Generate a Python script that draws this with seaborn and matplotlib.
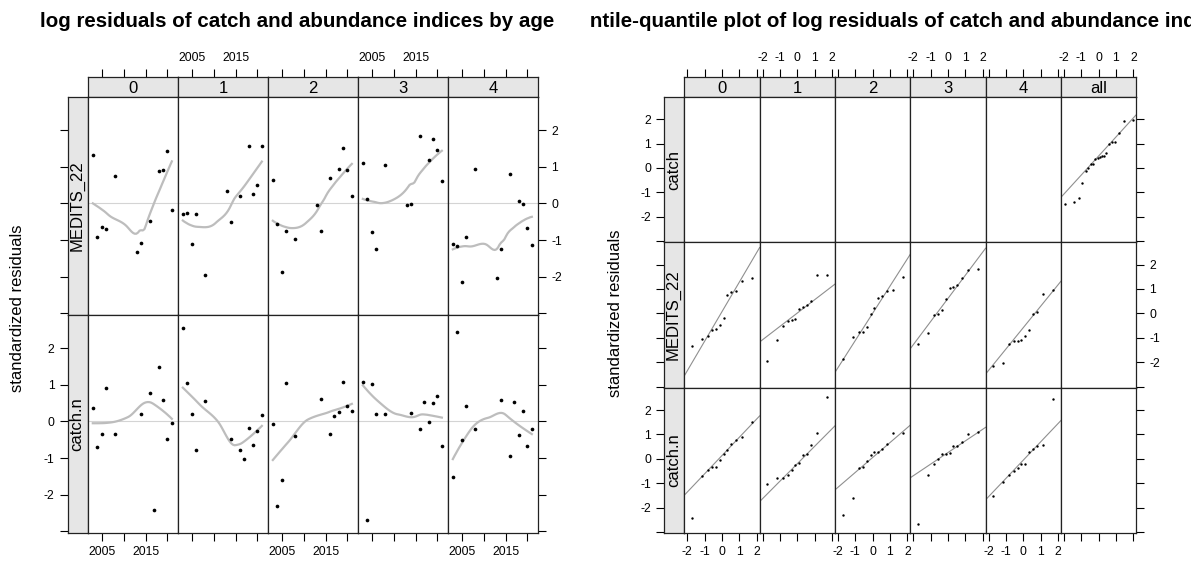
import numpy as np
import pandas as pd
import matplotlib
matplotlib.use("Agg")
import matplotlib.pyplot as plt
import seaborn as sns
from statistics import NormalDist

# standardized log residuals
ages = ["0", "1", "2", "3", "4"]
medits_years = [2003, 2004, 2005, 2006, 2008, 2013, 2014, 2016, 2018, 2019, 2020, 2021]
catchn_years = [2003, 2004, 2005, 2006, 2008, 2014, 2016, 2017, 2018, 2019, 2020, 2021]

medits_0 = [1.32, -0.92, -0.65, -0.69, 0.75, -1.32, -1.07, -0.47, 0.88, 0.91, 1.44, -0.18]
medits_1 = [-0.28, -0.25, -1.11, -0.30, -1.95, 0.34, -0.52, 0.19, 1.56, 0.25, 0.51, 1.56]
medits_2 = [0.65, -0.57, -1.87, -0.75, -0.98, -0.03, -0.75, 0.70, 0.94, 1.51, 0.92, 0.21]
medits_3 = [1.10, 0.13, -0.79, -1.25, 1.05, -0.05, -0.02, 1.84, 1.18, 1.77, 1.47, 0.60]
medits_4 = [-1.11, -1.15, -2.16, -0.92, 0.94, -2.05, -1.25, 0.81, 0.06, -0.01, -0.67, -1.14]

catchn_0 = [0.38, -0.70, -0.34, 0.91, -0.33, 0.20, 0.78, -2.43, 1.49, 0.59, -0.47, -0.05]
catchn_1 = [2.55, 1.05, 0.19, -0.79, 0.55, -0.47, -0.79, -1.03, -0.19, -0.65, -0.27, 0.17]
catchn_2 = [-0.07, -2.30, -1.59, 1.06, -0.39, 0.60, -0.35, 0.15, 0.27, 1.07, 0.42, 0.28]
catchn_3 = [1.08, -2.69, 1.02, 0.20, 0.20, 0.23, -0.20, 0.54, -0.02, 0.51, 0.69, -0.66]
catchn_4 = [-1.52, 2.44, -0.52, 0.42, -0.20, 0.58, -0.95, 0.54, -0.38, 0.29, -0.68, -0.20]

# total catch (only in the "all" qq panel)
catch_all = [-1.47, -1.40, -1.25, -0.63, -0.14, 0.00, 0.15, 0.16, 0.36, 0.42,
             0.47, 0.48, 0.51, 0.63, 1.00, 1.07, 1.07, 1.44, 1.92, 1.96]

rows = []
for age, vals in zip(ages, [medits_0, medits_1, medits_2, medits_3, medits_4]):
    rows += [("MEDITS_22", age, yr, v) for yr, v in zip(medits_years, vals)]
for age, vals in zip(ages, [catchn_0, catchn_1, catchn_2, catchn_3, catchn_4]):
    rows += [("catch.n", age, yr, v) for yr, v in zip(catchn_years, vals)]
df = pd.DataFrame(rows, columns=["index", "age", "year", "resid"])

W, H = 1191, 561
STRIP = "#e6e6e6"
FRAME = "#222222"
TICK_FS = 8.7
TITLE_FS = 14.8

plt.rcParams["font.family"] = ["Liberation Sans", "DejaVu Sans"]
fig = plt.figure(figsize=(W / 100, H / 100), dpi=100)


def box(x0, y0, x1, y1):
    return [x0 / W, 1 - y1 / H, (x1 - x0) / W, (y1 - y0) / H]


def loess_smooth(x, y, span=2 / 3, iterations=4, n_eval=50, cell=0.2):
    """degree-1 loess, symmetric family, kd-tree vertices + cubic interpolation
    (roughly what R's loess.smooth does inside panel.loess)"""
    x = np.asarray(x, float)
    y = np.asarray(y, float)
    n = len(x)
    q = int(np.floor(n * span))
    fc = max(int(np.floor(n * span * cell)), 1)

    def cuts(xx):
        if len(xx) <= fc:
            return []
        m = (len(xx) - 1) // 2
        v = (xx[m] + xx[m + 1]) / 2
        return cuts(xx[:m + 1]) + [v] + cuts(xx[m + 1:])

    xsort = np.sort(x)
    mu = 0.005 * (xsort[-1] - xsort[0])
    verts = np.array([xsort[0] - mu] + cuts(xsort) + [xsort[-1] + mu])

    def fit_at(x0, rw):
        d = np.abs(x - x0)
        h = np.sort(d)[q - 1] * 1.0001
        w = (1 - np.clip(d / h, 0, 1) ** 3) ** 3 * rw
        xm = (w * x).sum() / w.sum()
        ym = (w * y).sum() / w.sum()
        sxx = (w * (x - xm) ** 2).sum()
        b = (w * (x - xm) * (y - ym)).sum() / sxx if sxx > 0 else 0.0
        return ym + b * (x0 - xm), b

    def interp(t, vals, slopes):
        i = np.clip(np.searchsorted(verts, t) - 1, 0, len(verts) - 2)
        h = verts[i + 1] - verts[i]
        s = (t - verts[i]) / h
        return ((2 * s ** 3 - 3 * s ** 2 + 1) * vals[i] + (s ** 3 - 2 * s ** 2 + s) * h * slopes[i]
                + (-2 * s ** 3 + 3 * s ** 2) * vals[i + 1] + (s ** 3 - s ** 2) * h * slopes[i + 1])

    rw = np.ones(n)
    for it in range(iterations):
        fits = np.array([fit_at(v, rw) for v in verts])
        if it < iterations - 1:
            res = y - interp(x, fits[:, 0], fits[:, 1])
            s = np.median(np.abs(res))
            u = np.clip(res / (6 * s), -1, 1)
            rw = (1 - u ** 2) ** 2
    xe = np.linspace(x.min(), x.max(), n_eval)
    return xe, interp(xe, fits[:, 0], fits[:, 1])


def build_grid(cols, rows_px, strip_x, col_names, row_names, xlim, xticks, xlabels):
    ylim = (-3.05, 2.91)
    yticks = [-3, -2, -1, 0, 1, 2]
    ylabels = ["", "-2", "-1", "0", "1", "2"]
    n_r, n_c = len(rows_px) - 1, len(cols) - 1
    tick_kw = dict(direction="out", length=5.5, width=0.8, labelsize=TICK_FS, pad=4)
    grid = np.empty((n_r, n_c), dtype=object)

    for c in range(n_c):
        tax = fig.add_axes(box(cols[c], 77.3, cols[c + 1], 97))
        tax.set_facecolor(STRIP)
        tax.set_xlim(xlim)
        tax.set_xticks(xticks, xlabels)
        tax.set_yticks([])
        tax.tick_params(axis="x", bottom=False, labelbottom=False, top=True,
                        labeltop=(c % 2 == 1), **tick_kw)
        tax.text(0.5, 0.45, col_names[c], transform=tax.transAxes,
                 ha="center", va="center", fontsize=12)

    for r in range(n_r):
        from_bottom = n_r - 1 - r
        sax = fig.add_axes(box(strip_x, rows_px[r], cols[0], rows_px[r + 1]))
        sax.set_facecolor(STRIP)
        sax.set_xticks([])
        sax.set_ylim(ylim)
        sax.set_yticks(yticks, ylabels)
        sax.tick_params(axis="y", labelleft=(from_bottom % 2 == 0), **tick_kw)
        sax.text(0.45, 0.5, row_names[r], transform=sax.transAxes, rotation=90,
                 ha="center", va="center", fontsize=12)
        for c in range(n_c):
            ax = fig.add_axes(box(cols[c], rows_px[r], cols[c + 1], rows_px[r + 1]))
            ax.set_xlim(xlim)
            ax.set_ylim(ylim)
            ax.set_xticks(xticks, xlabels)
            ax.set_yticks(yticks, ylabels)
            bottom = r == n_r - 1
            right = c == n_c - 1
            ax.tick_params(axis="x", top=False, labeltop=False, bottom=bottom,
                           labelbottom=bottom and c % 2 == 0, **tick_kw)
            ax.tick_params(axis="y", left=False, labelleft=False, right=right,
                           labelright=right and from_bottom % 2 == 1, **tick_kw)
            grid[r, c] = ax

    for ax in fig.axes:
        for sp in ax.spines.values():
            sp.set_color(FRAME)
            sp.set_linewidth(0.9)
    return grid


def qq_panel(ax, vals):
    y = np.sort(np.asarray(vals, float))
    n = len(y)
    a = 3 / 8 if n <= 10 else 0.5
    p = (np.arange(1, n + 1) - a) / (n + 1 - 2 * a)
    nd = NormalDist()
    x = np.array([nd.inv_cdf(pi) for pi in p])
    q1, q3 = np.quantile(y, [0.25, 0.75])
    slope = (q3 - q1) / (nd.inv_cdf(0.75) - nd.inv_cdf(0.25))
    icpt = q1 - slope * nd.inv_cdf(0.25)
    ax.axline((0, icpt), slope=slope, color="#8f8f8f", lw=0.8, zorder=1)
    sns.scatterplot(x=x, y=y, ax=ax, color="black", s=3, linewidth=0, zorder=3)


# ---- left: residuals by year ----
left = build_grid([88, 178, 268, 358, 448, 538], [97, 315, 533], 67.7,
                  ages, ["MEDITS_22", "catch.n"], (2001.9, 2022.4),
                  [2005, 2010, 2015, 2020], ["2005", "", "2015", ""])
for r, idx in enumerate(["MEDITS_22", "catch.n"]):
    for c, age in enumerate(ages):
        ax = left[r, c]
        sub = df[(df["index"] == idx) & (df["age"] == age)]
        ax.axhline(0, color="#d4d4d4", lw=0.8, zorder=1)
        sns.scatterplot(data=sub, x="year", y="resid", ax=ax, color="black",
                        s=7, linewidth=0, zorder=3)
        xs, ys = loess_smooth(sub["year"], sub["resid"])
        sns.lineplot(x=xs, y=ys, ax=ax, color="#bdbdbd", lw=1.6, zorder=2)
        ax.set(xlabel="", ylabel="")

fig.text(297.5 / W, 1 - 27 / H, "log residuals of catch and abundance indices by age",
         ha="center", va="baseline", fontsize=TITLE_FS, fontweight="bold")
fig.text(18 / W, 1 - 308 / H, "standardized residuals", rotation=90,
         ha="center", va="center", fontsize=12)

# ---- right: normal qq plots ----
rc = [684.3 + 75.33 * i for i in range(7)]
right = build_grid(rc, [97, 242.4, 387.8, 533.2], 664.3,
                   ages + ["all"], ["catch", "MEDITS_22", "catch.n"], (-2.17, 2.17),
                   [-2, -1, 0, 1, 2], ["-2", "-1", "0", "1", "2"])
qq_panel(right[0, 5], catch_all)
for r, idx in [(1, "MEDITS_22"), (2, "catch.n")]:
    for c, age in enumerate(ages):
        sub = df[(df["index"] == idx) & (df["age"] == age)]
        qq_panel(right[r, c], sub["resid"])

fig.text(615 / W, 1 - 313 / H, "standardized residuals", rotation=90,
         ha="center", va="center", fontsize=12)

# right-hand title runs past its half of the figure and is cut off
tax = fig.add_axes(box(590, 0, W, 60))
tax.axis("off")
tax.text((928.5 - 590) / 601, 1 - 27 / 60,
         "Quantile-quantile plot of log residuals of catch and abundance indices by age",
         transform=tax.transAxes, ha="center", va="baseline", fontsize=TITLE_FS,
         fontweight="bold", clip_on=True)

fig.savefig("out.png", dpi=100)
